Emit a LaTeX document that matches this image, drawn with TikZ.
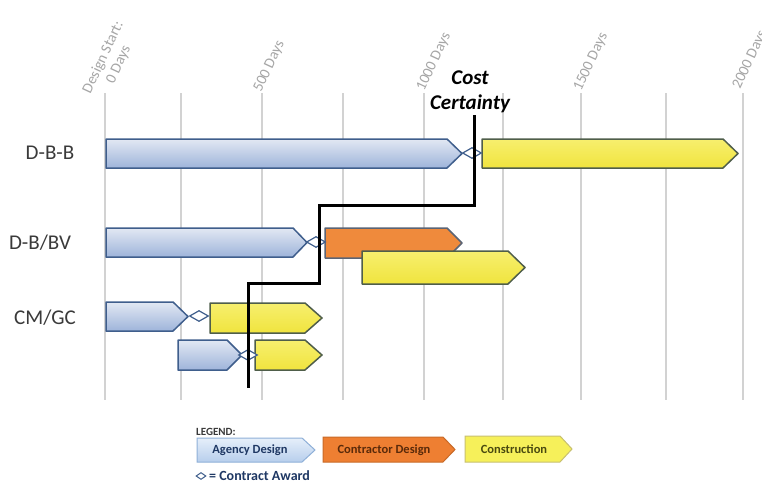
\documentclass[tikz,border=0pt]{standalone}
\usepackage{fontspec}
\setmainfont{Carlito}
\usetikzlibrary{shapes.geometric}
\definecolor{gridc}{HTML}{D2D2D2}
\definecolor{axtext}{HTML}{A6A6A6}
\definecolor{rowtext}{HTML}{3A3A3A}
\definecolor{blueedge}{HTML}{3F5E8C}
\definecolor{bluetop}{HTML}{E2E8F3}
\definecolor{bluebot}{HTML}{9EB4DA}
\definecolor{yelfill}{HTML}{F0E43E}
\definecolor{yeltop}{HTML}{F7EF6E}
\definecolor{yeledge}{HTML}{4F5E4A}
\definecolor{orafill}{HTML}{EF8A3C}
\definecolor{oraedge}{HTML}{5B6475}
\definecolor{navy}{HTML}{1F3864}
\definecolor{brownt}{HTML}{5A2A0A}
\definecolor{olivet}{HTML}{4A4A10}
\definecolor{lgbluetop}{HTML}{E6EFFA}
\definecolor{lgbluebot}{HTML}{B7CEEC}
\definecolor{lgblueedge}{HTML}{8FB0D8}
\definecolor{lgora}{HTML}{EE7F32}
\definecolor{lgoraedge}{HTML}{C86A28}
\definecolor{lgyel}{HTML}{F6F05A}
\definecolor{lgyeledge}{HTML}{C8C070}
\newcommand\ganttbar[7]{% style, name, x1, xtip, ytop, ybot, tiplen
  \path[#1] (#3,#5) -- ({#4-#7},#5) -- (#4,{(#5+#6)/2}) -- ({#4-#7},#6) -- (#3,#6) -- cycle;
  \coordinate (#2) at ({(#3+#4)/2},{(#5+#6)/2});}
\begin{document}
\begin{tikzpicture}[x=1pt,y=-1pt,
  gridline/.style={draw=gridc,line width=1.6pt},
  axlabel/.style={text=axtext,font=\fontsize{15}{17}\selectfont,rotate=65,inner sep=0pt},
  rowlabel/.style={text=rowtext,font=\fontsize{21}{24}\selectfont,inner sep=0pt},
  agency/.style={draw=blueedge,line width=1.5pt,top color=bluetop,bottom color=bluebot,line join=round},
  constr/.style={draw=yeledge,line width=1.5pt,top color=yeltop,bottom color=yelfill,line join=round},
  contr/.style={draw=oraedge,line width=1.5pt,fill=orafill,line join=round},
  award/.style={diamond,draw=blueedge,line width=1.2pt,fill=white,minimum width=19pt,minimum height=11pt,inner sep=0pt},
  certline/.style={draw=black,line width=3pt},
  lgagency/.style={draw=lgblueedge,line width=1pt,top color=lgbluetop,bottom color=lgbluebot},
  lgcontr/.style={draw=lgoraedge,line width=1pt,fill=lgora},
  lgconstr/.style={draw=lgyeledge,line width=1pt,fill=lgyel},
  lgtext/.style={font=\bfseries\fontsize{12.5}{14}\selectfont,inner sep=0pt}]
\useasboundingbox (0,0) rectangle (762,482);
\fill[white] (0,0) rectangle (762,482);
% grid lines
\foreach \gx/\gn in {105/g0,181/g1,262/g2,343/g3,424/g4,503/g5,581/g6,666/g7,743/g8}{
  \coordinate (\gn top) at (\gx,93);
  \coordinate (\gn bot) at (\gx,400);
  \draw[gridline] (\gn top) -- (\gn bot);
}
% axis labels
\node[axlabel,align=center] (lab0) at (111,61) {Design Start:\\0 Days};
\node[axlabel,anchor=base west] (lab500) at (261,93) {500 Days};
\node[axlabel,anchor=base west] (lab1000) at (424,92) {1000 Days};
\node[axlabel,anchor=base west] (lab1500) at (581,92) {1500 Days};
\node[axlabel,anchor=base west] (lab2000) at (740,90) {2000 Days};
% row labels
\node[rowlabel] (dbb) at (50,153) {D-B-B};
\node[rowlabel] (dbbv) at (40,243) {D-B/BV};
\node[rowlabel] (cmgc) at (45,318) {CM/GC};
% D-B-B
\ganttbar{agency}{dbbA}{106}{462}{139}{168}{15}
\ganttbar{constr}{dbbC}{482}{738}{139}{168}{15}
% D-B/BV
\ganttbar{agency}{bvA}{106}{307}{228}{257}{14}
\ganttbar{contr}{bvD}{325}{462}{228}{258}{15}
\ganttbar{constr}{bvC}{362}{525}{251}{284}{17}
% CM/GC
\ganttbar{agency}{cmA1}{106}{188}{302}{331}{15}
\ganttbar{constr}{cmC1}{210}{322}{303}{333}{17}
\ganttbar{agency}{cmA2}{178}{242}{340}{370}{15}
\ganttbar{constr}{cmC2}{255}{322}{340}{370}{17}
% contract awards
\node[award] (aw1) at (472,153) {};
\node[award] (aw2) at (316,242) {};
\node[award] (aw3) at (199,316) {};
\node[award] (aw4) at (248,355) {};
% cost certainty line
\coordinate (ccTop) at (474,115);
\coordinate (ccBot) at (248,388);
\draw[certline,line join=miter] (ccTop) -- (474,205) -- (319,205) -- (319,283) -- (248,283) -- (ccBot);
\node[font=\bfseries\itshape\fontsize{21}{25}\selectfont,align=center,inner sep=0pt] (cc) at (470,92) {Cost\\Certainty};
% legend
\node[font=\bfseries\fontsize{11}{12}\selectfont,text=rowtext,anchor=west,inner sep=0pt] (leg) at (196,432) {LEGEND:};
\ganttbar{lgagency}{lgA}{197}{315}{438}{462}{13}
\ganttbar{lgcontr}{lgD}{323}{455}{437}{462}{12}
\ganttbar{lgconstr}{lgC}{465}{572}{436}{462}{12}
\node[lgtext,text=navy] at (250,450) {Agency Design};
\node[lgtext,text=brownt] at (384,450) {Contractor Design};
\node[lgtext,text=olivet] at (514,449) {Construction};
\node[diamond,draw=blueedge,line width=1pt,fill=white,minimum width=10pt,minimum height=7pt,inner sep=0pt] (lgaw) at (201,476) {};
\node[font=\bfseries\fontsize{14}{15}\selectfont,text=navy,anchor=west,inner sep=0pt] (lgawt) at (209,476) {= Contract Award};
\end{tikzpicture}
\end{document}
